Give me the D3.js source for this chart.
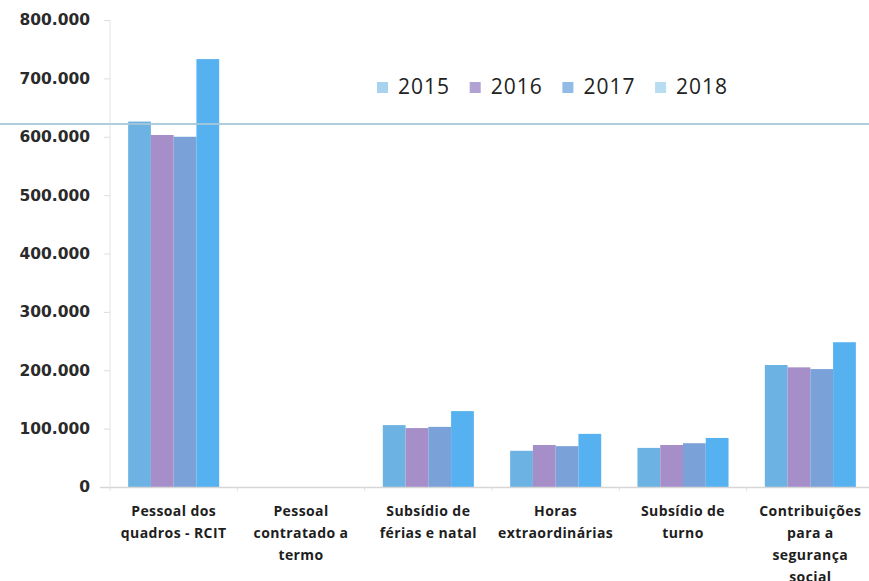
<!DOCTYPE html>
<html><head><meta charset="utf-8">
<script src="https://cdn.jsdelivr.net/npm/d3@7"></script>
<style>html,body{margin:0;padding:0;background:#fff;}svg{display:block;}</style>
</head><body>
<svg id="c" width="869" height="581"></svg>
<script>
const categories = [
  ["Pessoal dos", "quadros - RCIT"],
  ["Pessoal", "contratado a", "termo"],
  ["Subsídio de", "férias e natal"],
  ["Horas", "extraordinárias"],
  ["Subsídio de", "turno"],
  ["Contribuições", "para a", "segurança", "social"]
];
const years = ["2015", "2016", "2017", "2018"];
const v2015 = [626000, 0, 106000, 62000, 67000, 209000];
const v2016 = [603000, 0, 101000, 72000, 72000, 205000];
const v2017 = [600000, 0, 103000, 70000, 75000, 202000];
const v2018 = [733000, 0, 130000, 91000, 84000, 248000];
const yTicks = [0, 100000, 200000, 300000, 400000, 500000, 600000, 700000, 800000];
const refLine = 622000;
const colors = ["#6cb3e3", "#a68fc8", "#7aa2d8", "#55b1ef"];
const swatchColors = ["#a9d2ee", "#b2a2d4", "#8fbbe6", "#b8dcf0"];

const series = [v2015, v2016, v2017, v2018];
const svg = d3.select("#c");
const x0 = 110, x1 = 874, yTop = 20, yBot = 487;

const x = d3.scaleBand().domain(d3.range(categories.length)).range([x0, x1])
  .paddingInner(0.285).paddingOuter(0.1425);
const xs = d3.scaleBand().domain(years).range([0, x.bandwidth()]);
const y = d3.scaleLinear().domain([0, 800000]).range([yBot, yTop]);

// axis line
svg.append("line").attr("x1", x0).attr("x2", x0).attr("y1", yTop).attr("y2", yBot)
  .attr("stroke", "#e4e4e4").attr("stroke-width", 1);

// y axis
const fmt = v => v === 0 ? "0" : d3.format(",")(v).replace(/,/g, ".");
const yAxis = d3.axisLeft(y).tickValues(yTicks).tickFormat(fmt).tickSize(6).tickPadding(14);
const ya = svg.append("g").attr("transform", `translate(${x0},0)`).call(yAxis);
ya.select(".domain").remove();
ya.selectAll(".tick line").attr("stroke", "#dddddd");
ya.selectAll(".tick text").attr("font-family", "DejaVu Sans").attr("font-weight", "bold")
  .attr("font-size", 15.5).attr("fill", "#2a2a2a");

// bars
const g = svg.append("g");
categories.forEach((c, i) => {
  years.forEach((yr, j) => {
    const v = series[j][i];
    g.append("rect")
      .attr("x", x(i) + xs(yr))
      .attr("y", y(v))
      .attr("width", xs.bandwidth())
      .attr("height", yBot - y(v))
      .attr("fill", colors[j]);
  });
});

// baseline
svg.append("line").attr("x1", 100).attr("x2", 869).attr("y1", yBot + 0.5).attr("y2", yBot + 0.5)
  .attr("stroke", "#d6d6d6").attr("stroke-width", 1.5);
const step = x.step();
d3.range(categories.length + 1).forEach(k => {
  const px = x0 + k * step;
  svg.append("line").attr("x1", px).attr("x2", px).attr("y1", yBot).attr("y2", yBot + 4)
    .attr("stroke", "#e0e0e0");
});

// category labels
categories.forEach((lines, i) => {
  const cx = x(i) + x.bandwidth() / 2;
  const t = svg.append("text").attr("text-anchor", "middle")
    .attr("font-family", "Open Sans").attr("font-weight", "bold").attr("font-size", 14)
    .attr("letter-spacing", 0.4).attr("fill", "#1e1e1e");
  lines.forEach((ln, k) => {
    t.append("tspan").attr("x", cx).attr("y", 516 + k * 22).text(ln);
  });
});

// reference line (horizontal rule across)
svg.append("line").attr("x1", 0).attr("x2", 869).attr("y1", y(refLine)).attr("y2", y(refLine))
  .attr("stroke", "#a6c8da").attr("stroke-width", 2).attr("opacity", 0.9);

// legend
const lg = svg.append("g");
years.forEach((yr, j) => {
  const lx = 377 + j * 92.7;
  lg.append("rect").attr("x", lx).attr("y", 82).attr("width", 11).attr("height", 11)
    .attr("fill", swatchColors[j]);
  lg.append("text").attr("x", lx + 21).attr("y", 94).attr("font-family", "Open Sans")
    .attr("font-size", 21).attr("letter-spacing", 1).attr("fill", "#222").text(yr);
});
</script>
</body></html>
